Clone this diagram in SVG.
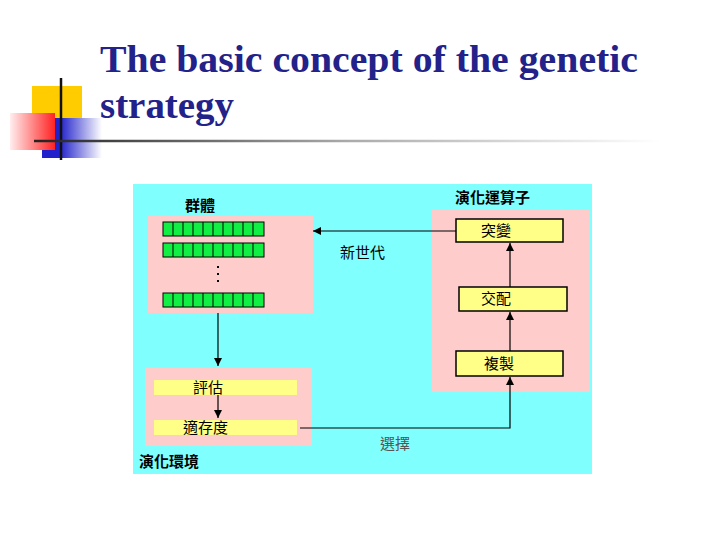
<svg xmlns="http://www.w3.org/2000/svg" width="720" height="540" viewBox="0 0 720 540">
<defs>
<linearGradient id="rg" x1="1" y1="0" x2="0" y2="0"><stop offset="0" stop-color="#f22"/><stop offset="1" stop-color="#fee"/></linearGradient>
<linearGradient id="bg" x1="0" y1="0" x2="1" y2="0"><stop offset="0.3" stop-color="#22c"/><stop offset="1" stop-color="#fff"/></linearGradient>
<linearGradient id="lg" gradientUnits="userSpaceOnUse" x1="34" y1="0" x2="660" y2="0"><stop offset="0" stop-color="#222"/><stop offset="0.5" stop-color="#aaa"/><stop offset="1" stop-color="#fff"/></linearGradient>
<marker id="ah" viewBox="0 0 10 10" refX="10" refY="5" markerWidth="8" markerHeight="8" markerUnits="userSpaceOnUse" orient="auto"><path d="M0,0L10,5L0,10z" fill="#000"/></marker>
<style>
.cj{font-family:"Noto Sans CJK TC","Noto Sans CJK SC",sans-serif;font-size:15px;fill:#000}
.b{font-weight:bold}
.pk{fill:#fcc}
.yb{fill:#ff8}
.op{fill:#ff8;stroke:#000;stroke-width:1.5}
.ln{stroke:#000;stroke-width:1.2;fill:none}
.cell{fill:#1e4;stroke:#000;stroke-width:1}
</style>
</defs>
<g id="logo">
<rect x="32" y="86" width="50" height="50" fill="#fc0"/>
<rect x="42" y="118" width="60" height="40" fill="url(#bg)"/>
<rect x="10" y="113" width="45" height="37" fill="url(#rg)"/>
<line x1="61" y1="78" x2="61" y2="160" stroke="#111" stroke-width="2.5"/>
<line x1="34" y1="141" x2="660" y2="141" stroke="url(#lg)" stroke-width="2.5"/>
</g>
<text x="100" y="72" font-family="Liberation Serif,serif" font-size="38" font-weight="bold" fill="#22228a" textLength="538" lengthAdjust="spacingAndGlyphs">The basic concept of the genetic</text>
<text x="100" y="118" font-family="Liberation Serif,serif" font-size="38" font-weight="bold" fill="#22228a" textLength="134" lengthAdjust="spacingAndGlyphs">strategy</text>
<rect x="133" y="184" width="459" height="290" fill="#80ffff"/>
<g id="population">
<rect class="pk" x="148" y="216" width="165" height="97"/>
<text class="cj b" x="185" y="211" font-size="16">群體</text>
<g id="chroms">
<rect class="cell" x="163" y="222" width="101" height="14"/>
<rect class="cell" x="163" y="243" width="101" height="14"/>
<rect class="cell" x="163" y="293" width="101" height="14"/>
<path stroke="#000" stroke-width="1" d="M173,222v14M183,222v14M193,222v14M203,222v14M213,222v14M223,222v14M233,222v14M243,222v14M253,222v14M173,243v14M183,243v14M193,243v14M203,243v14M213,243v14M223,243v14M233,243v14M243,243v14M253,243v14M173,293v14M183,293v14M193,293v14M203,293v14M213,293v14M223,293v14M233,293v14M243,293v14M253,293v14"/>
</g>
<path d="M218,266v2M218,273v2M218,280v2" stroke="#000" stroke-width="2"/>
</g>
<g id="operators">
<rect class="pk" x="432" y="210" width="158" height="182"/>
<text class="cj b" x="455" y="203" font-size="15">演化運算子</text>
<g id="mutation"><rect class="op" x="456" y="219" width="107" height="23"/><text class="cj" x="481" y="236" font-size="14">突變</text></g>
<g id="crossover"><rect class="op" x="459" y="287" width="108" height="24"/><text class="cj" x="481" y="304" font-size="14">交配</text></g>
<g id="copy"><rect class="op" x="456" y="351" width="107" height="25"/><text class="cj" x="484" y="369" font-size="14">複製</text></g>
</g>
<g id="environment">
<rect class="pk" x="145" y="368" width="167" height="78"/>
<g id="eval"><rect class="yb" x="154" y="380" width="143" height="15"/><text class="cj" x="193" y="393" font-size="14">評估</text></g>
<g id="fitness"><rect class="yb" x="154" y="420" width="143" height="15"/><text class="cj" x="183" y="433" font-size="14">適存度</text></g>
<text class="cj b" x="139" y="467" font-size="15">演化環境</text>
</g>
<g id="connectors">
<path class="ln" d="M218,313V366" marker-end="url(#ah)"/>
<path class="ln" d="M218,395V418" marker-end="url(#ah)"/>
<path class="ln" d="M456,231H313" marker-end="url(#ah)"/>
<path class="ln" d="M300,428H510V377" marker-end="url(#ah)"/>
<path class="ln" d="M510,351V312" marker-end="url(#ah)"/>
<path class="ln" d="M510,287V243" marker-end="url(#ah)"/>
<text class="cj" x="340" y="258" font-size="14">新世代</text>
<text class="cj" x="380" y="449" font-size="16" style="fill:#555">選擇</text>
</g>
</svg>
